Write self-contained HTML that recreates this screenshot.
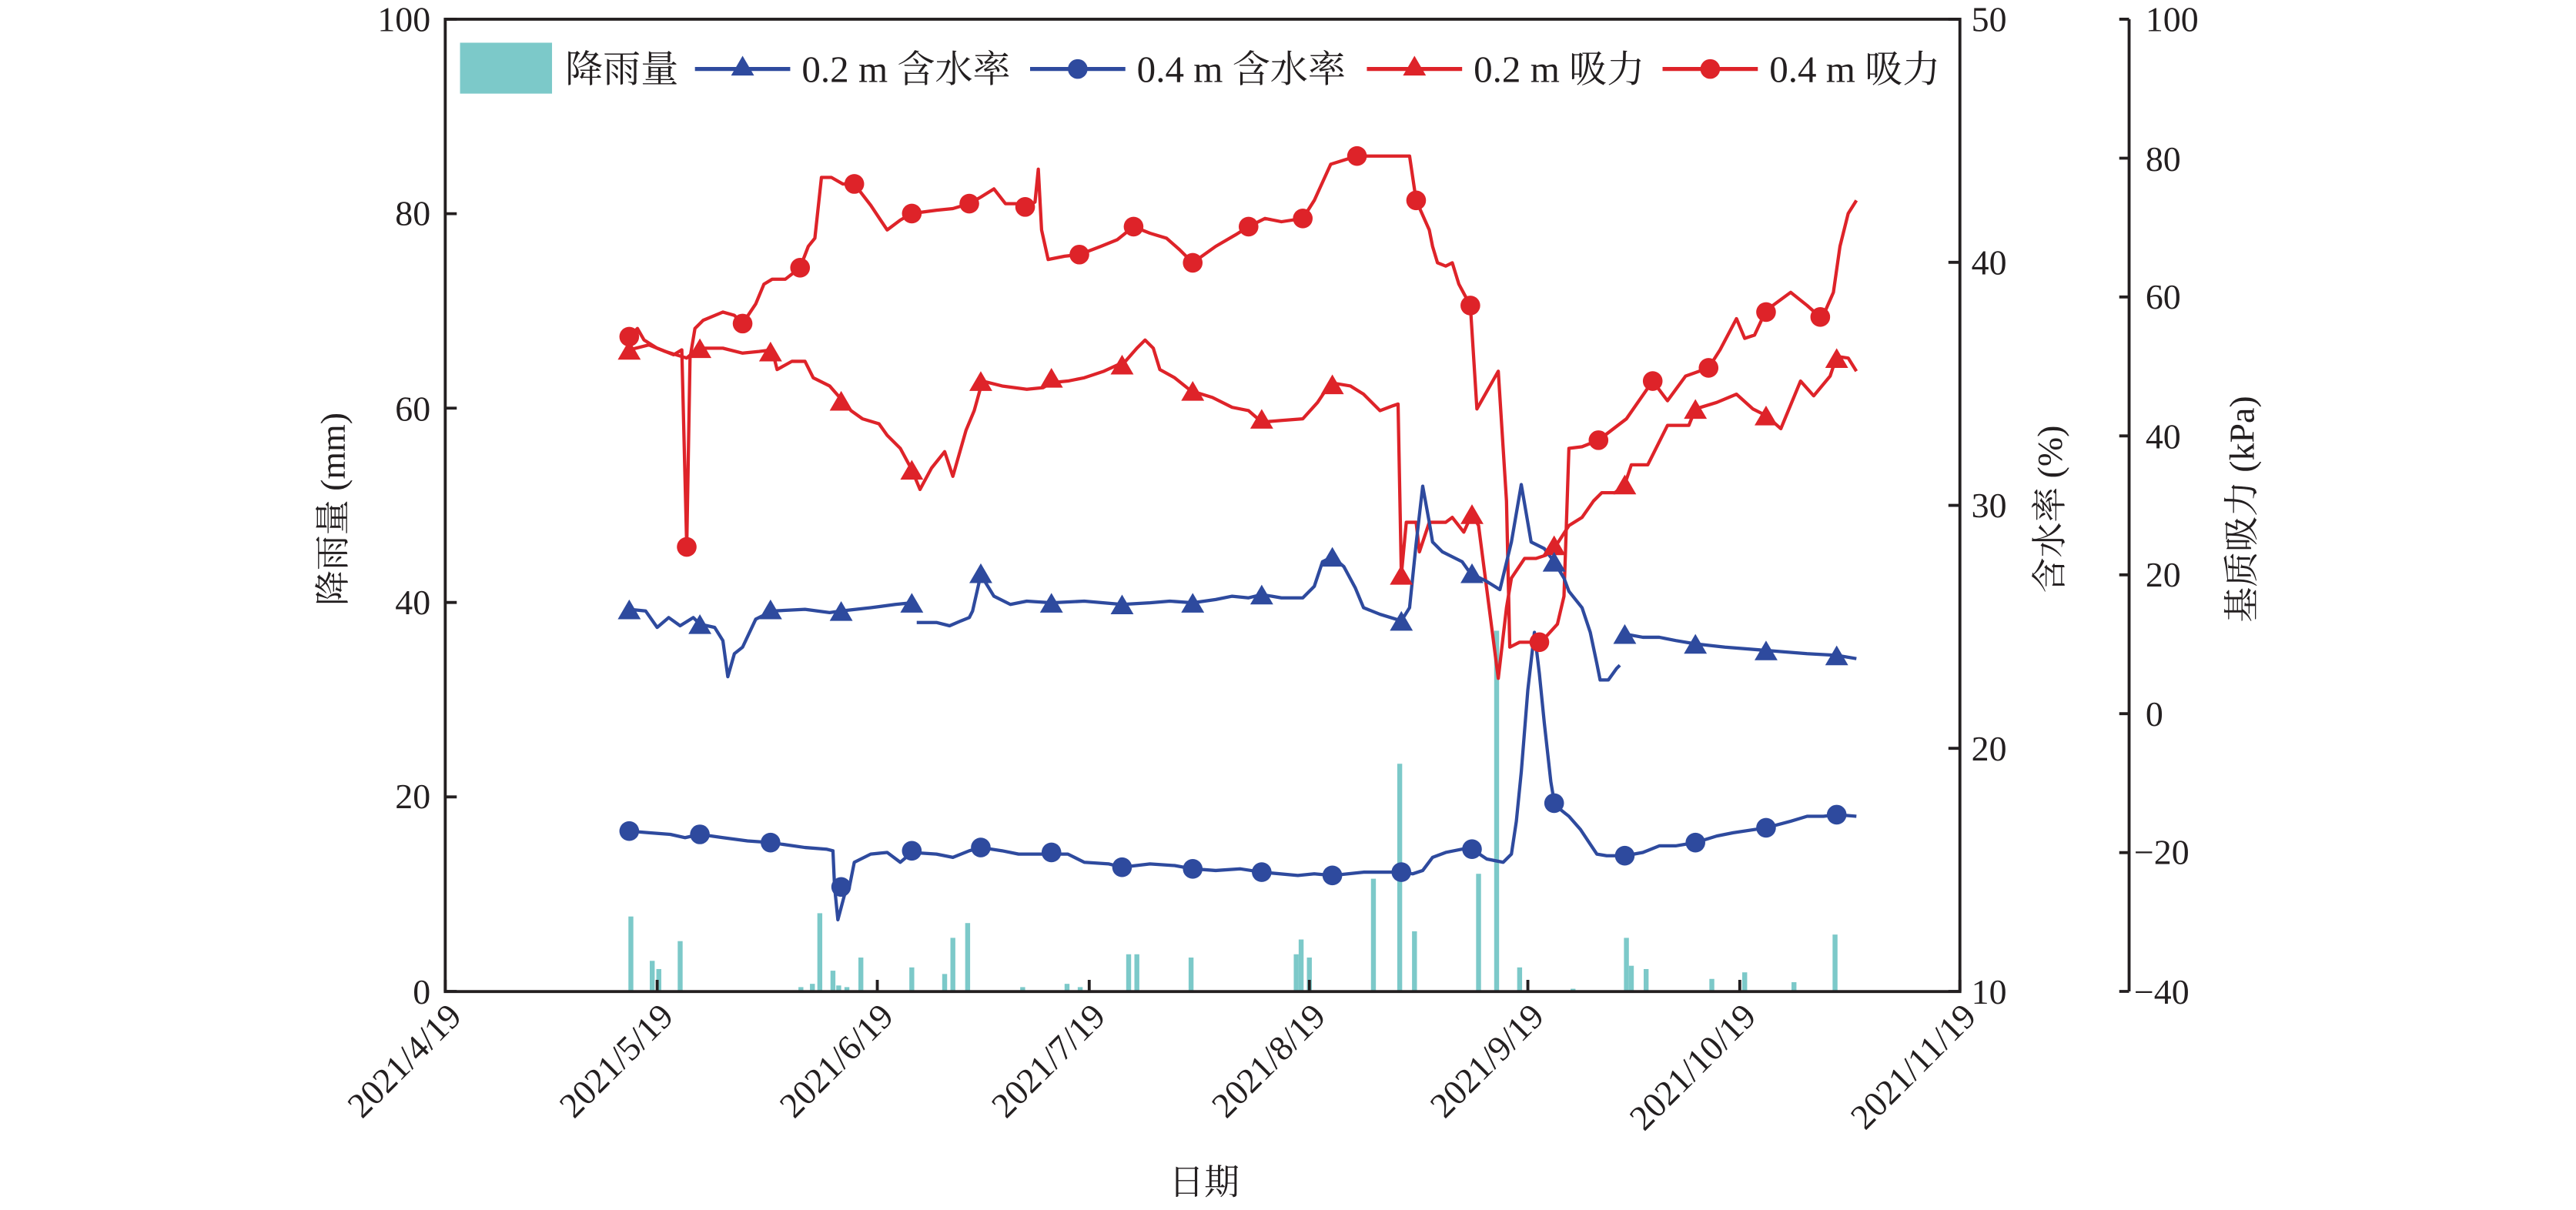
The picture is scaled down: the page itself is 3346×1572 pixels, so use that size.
<!DOCTYPE html>
<html><head><meta charset="utf-8"><style>
html,body{margin:0;padding:0;background:#fff;}
svg{display:block;}
text{font-family:"Liberation Serif","Noto Serif CJK SC","Noto Sans CJK SC",serif;fill:#231f20;}
</style></head><body>
<svg width="3346" height="1572" viewBox="0 0 1568 736.7" xmlns="http://www.w3.org/2000/svg">
<!-- rain bars -->
<g fill="#7cc9c9">
<rect x="382.5" y="558" width="3" height="45.6"/>
<rect x="395.5" y="585" width="3" height="18.6"/>
<rect x="399.5" y="590" width="3" height="13.6"/>
<rect x="412.5" y="573" width="3" height="30.6"/>
<rect x="486" y="601" width="3" height="2.6"/>
<rect x="493" y="599" width="3" height="4.6"/>
<rect x="497.5" y="556" width="3" height="47.6"/>
<rect x="505.5" y="591" width="3" height="12.6"/>
<rect x="509" y="600" width="3" height="3.6"/>
<rect x="514" y="601" width="3" height="2.6"/>
<rect x="522.5" y="583" width="3" height="20.6"/>
<rect x="553.5" y="589" width="3" height="14.6"/>
<rect x="573.5" y="593" width="3" height="10.6"/>
<rect x="578.5" y="571" width="3" height="32.6"/>
<rect x="587.5" y="562" width="3" height="41.6"/>
<rect x="621" y="601" width="3" height="2.6"/>
<rect x="648" y="599" width="3" height="4.6"/>
<rect x="656" y="601" width="3" height="2.6"/>
<rect x="685.5" y="581" width="3" height="22.6"/>
<rect x="690.5" y="581" width="3" height="22.6"/>
<rect x="723.5" y="583" width="3" height="20.6"/>
<rect x="787.5" y="581" width="3" height="22.6"/>
<rect x="790.5" y="572" width="3" height="31.6"/>
<rect x="795.5" y="583" width="3" height="20.6"/>
<rect x="834.5" y="535" width="3" height="68.6"/>
<rect x="850.5" y="465" width="3" height="138.6"/>
<rect x="859.5" y="567" width="3" height="36.6"/>
<rect x="898.5" y="532" width="3" height="71.6"/>
<rect x="909.5" y="384" width="3" height="219.6"/>
<rect x="923.5" y="589" width="3" height="14.6"/>
<rect x="956" y="602" width="3" height="1.6"/>
<rect x="988.5" y="571" width="3" height="32.6"/>
<rect x="991.5" y="588" width="3" height="15.6"/>
<rect x="1000.5" y="590" width="3" height="13.6"/>
<rect x="1040.5" y="596" width="3" height="7.6"/>
<rect x="1060.5" y="592" width="3" height="11.6"/>
<rect x="1090.5" y="598" width="3" height="5.6"/>
<rect x="1115.5" y="569" width="3" height="34.6"/>
</g>
<g fill="none" stroke-width="2" stroke-linejoin="round">
<!-- 0.4 m suction -->
<polyline stroke="#de2329" points="383,205 388,200 392,207 400,212 410,216 415,213 418,333 420,218 423,200 428,195 440,190 447,192 452,197 460,185 465,173 470,170 478,170 487,163 492,150 496,145 500,108 506,108 513,112 520,112 530,125 540,140 548,134 555,130 570,128 580,127 590,124 597,120 605,115 612,124 620,124 625,126 630,123 632,103 634,140 638,158 648,156 657,155 670,150 680,146 690,138 700,142 710,145 718,152 726,160 740,150 752,143 760,138 770,133 780,135 793,133 800,122 810,100 826,95 840,95 858,95 862,122 870,140 872,150 875,160 880,162 884,160 888,173 895,186 899,249 912,226 917,305 919,394 925,391 938,391 948,380 952,363 955,273 963,272 973,268 990,255 1006,232 1015,244 1026,229 1040,224 1047,213 1057,194 1062,206 1068,204 1075,189 1090,178 1100,186 1109,194 1116,178 1120,150 1125,130 1130,122"/>
<!-- 0.2 m suction -->
<polyline stroke="#de2329" points="383,213 395,210 405,214 418,218 425,212 440,212 452,215 462,214 470,213 473,225 482,220 490,220 495,230 505,235 512,243 518,250 525,255 535,258 540,265 548,273 555,286 560,298 567,285 575,275 580,290 588,262 593,250 598,232 610,235 625,237 635,236 640,233 650,232 660,230 672,226 685,220 692,212 697,207 702,212 706,225 715,230 725,238 738,242 750,248 760,250 768,257 780,256 793,255 802,245 810,233 822,235 830,240 840,250 848,247 851,246 853,350 856,318 862,318 864,336 870,318 880,318 884,315 891,324 896,313 900,320 912,413 917,370 920,352 928,340 935,340 941,338 946,334 955,320 963,315 970,305 975,300 983,300 989,295 993,283 1003,283 1015,259 1028,259 1032,249 1045,245 1057,240 1067,249 1075,253 1084,261 1096,232 1104,241 1114,229 1118,217 1125,218 1130,226"/>
<!-- 0.2 m moisture -->
<polyline stroke="#2e4a9e" points="383,371 393,372 400,382 407,376 414,381 422,376 426,380 435,382 440,390 443,412 447,398 452,394 460,377 470,372 490,371 505,373 512,372 530,370 545,368 555,367"/>
<polyline stroke="#2e4a9e" points="558,379 570,379 578,381 585,378 590,376 592,372 597,350 605,363 615,368 625,366 640,367 660,366 683,368 700,367 712,366 726,367 740,365 750,363 760,364 768,362 780,364 793,364 800,357 805,342 811,339 818,345 825,358 830,370 840,374 853,378 858,370 862,331 866,296 870,318 872,330 878,336 890,342 895,349 905,354 913,359 920,330 926,295 932,330 940,334 946,342 952,352 955,360 963,370 968,385 972,404 974,414 979,414 984,407 986,405"/>
<polyline stroke="#2e4a9e" points="989,386 1000,388 1010,388 1020,390 1032,392 1050,394 1075,396 1100,398 1118,399 1130,401"/>
<!-- 0.4 m moisture -->
<polyline stroke="#2e4a9e" points="383,506 395,507 408,508 417,510 426,508 440,510 455,512 469,513 490,516 503,517 507,518 508,540 510,560 514,545 517,540 520,525 530,520 540,519 548,525 555,519 570,520 580,522 590,518 597,516 610,518 620,520 640,520 650,520 660,525 675,526 683,528 700,526 715,527 726,529 740,530 755,529 768,531 790,533 800,532 811,533 830,531 853,531 860,532 866,530 872,522 880,519 890,517 896,517 905,523 915,525 920,520 923,500 926,470 930,420 934,385 937,410 940,440 944,476 946,488 950,493 955,497 962,505 968,514 972,520 978,521 989,521 1000,519 1010,515 1020,515 1032,513 1045,509 1055,507 1075,504 1090,500 1100,497 1110,497 1118,496 1130,497"/>
</g>
<!-- markers -->
<g fill="#de2329">
<circle cx="383" cy="205" r="6"/><circle cx="418" cy="333" r="6"/><circle cx="452" cy="197" r="6"/><circle cx="487" cy="163" r="6"/><circle cx="520" cy="112" r="6"/><circle cx="555" cy="130" r="6"/><circle cx="590" cy="124" r="6"/><circle cx="624" cy="126" r="6"/><circle cx="657" cy="155" r="6"/><circle cx="690" cy="138" r="6"/><circle cx="726" cy="160" r="6"/><circle cx="760" cy="138" r="6"/><circle cx="793" cy="133" r="6"/><circle cx="826" cy="95" r="6"/><circle cx="862" cy="122" r="6"/><circle cx="895" cy="186" r="6"/><circle cx="937" cy="391" r="6"/><circle cx="973" cy="268" r="6"/><circle cx="1006" cy="232" r="6"/><circle cx="1040" cy="224" r="6"/><circle cx="1075" cy="190" r="6"/><circle cx="1108" cy="193" r="6"/>
</g>
<g fill="#de2329">
<polygon points="383,207 390,219 376,219"/><polygon points="426,206 433,218 419,218"/><polygon points="469,208 476,220 462,220"/><polygon points="512,238 519,250 505,250"/><polygon points="555,280 562,292 548,292"/><polygon points="597,226 604,238 590,238"/><polygon points="640,224 647,236 633,236"/><polygon points="683,216 690,228 676,228"/><polygon points="726,232 733,244 719,244"/><polygon points="768,249 775,261 761,261"/><polygon points="811,228 818,240 804,240"/><polygon points="853,344 860,356 846,356"/><polygon points="896,307 903,319 889,319"/><polygon points="946,326 953,338 939,338"/><polygon points="989,289 996,301 982,301"/><polygon points="1032,243 1039,255 1025,255"/><polygon points="1075,247 1082,259 1068,259"/><polygon points="1118,212 1125,224 1111,224"/>
</g>
<g fill="#2e4a9e">
<polygon points="383,365 390,377 376,377"/><polygon points="426,374 433,386 419,386"/><polygon points="469,365 476,377 462,377"/><polygon points="512,366 519,378 505,378"/><polygon points="555,361 562,373 548,373"/><polygon points="597,343 604,355 590,355"/><polygon points="640,361 647,373 633,373"/><polygon points="683,362 690,374 676,374"/><polygon points="726,361 733,373 719,373"/><polygon points="768,356 775,368 761,368"/><polygon points="811,333 818,345 804,345"/><polygon points="853,372 860,384 846,384"/><polygon points="896,343 903,355 889,355"/><polygon points="946,336 953,348 939,348"/><polygon points="989,380 996,392 982,392"/><polygon points="1032,386 1039,398 1025,398"/><polygon points="1075,390 1082,402 1068,402"/><polygon points="1118,393 1125,405 1111,405"/>
<circle cx="383" cy="506" r="6"/><circle cx="426" cy="508" r="6"/><circle cx="469" cy="513" r="6"/><circle cx="512" cy="540" r="6"/><circle cx="555" cy="518" r="6"/><circle cx="597" cy="516" r="6"/><circle cx="640" cy="519" r="6"/><circle cx="683" cy="528" r="6"/><circle cx="726" cy="529" r="6"/><circle cx="768" cy="531" r="6"/><circle cx="811" cy="533" r="6"/><circle cx="853" cy="531" r="6"/><circle cx="896" cy="517" r="6"/><circle cx="946" cy="489" r="6"/><circle cx="989" cy="521" r="6"/><circle cx="1032" cy="513" r="6"/><circle cx="1075" cy="504" r="6"/><circle cx="1118" cy="496" r="6"/>
</g>
<!-- axes -->
<g stroke="#231f20" stroke-width="1.8" fill="none">
<rect x="271" y="11.7" width="922" height="592"/>
<line x1="1296" y1="11.7" x2="1296" y2="603.6"/>
<path d="M271,11.7h7 M271,130.1h7 M271,248.5h7 M271,366.8h7 M271,485.2h7 M271,603.6h7"/>
<path d="M1193,11.7h-7 M1193,159.7h-7 M1193,307.7h-7 M1193,455.6h-7 M1193,603.6h-7"/>
<path d="M1296,11.7h-6 M1296,96.3h-6 M1296,180.8h-6 M1296,265.4h-6 M1296,350h-6 M1296,434.5h-6 M1296,519.1h-6 M1296,603.6h-6"/>
<path d="M271,603.6v-7 M400,603.6v-7 M534,603.6v-7 M663,603.6v-7 M797,603.6v-7 M930,603.6v-7 M1059,603.6v-7 M1193,603.6v-7"/>
</g>
<g font-size="21.5" text-anchor="end">
<text x="262" y="19">100</text><text x="262" y="137">80</text><text x="262" y="256">60</text><text x="262" y="374">40</text><text x="262" y="492">20</text><text x="262" y="611">0</text>
</g>
<g font-size="21.5">
<text x="1200" y="19">50</text><text x="1200" y="167">40</text><text x="1200" y="315">30</text><text x="1200" y="463">20</text><text x="1200" y="611">10</text>
<text x="1306" y="19">100</text><text x="1306" y="104">80</text><text x="1306" y="188">60</text><text x="1306" y="273">40</text><text x="1306" y="357">20</text><text x="1306" y="442">0</text><text x="1299" y="526">−20</text><text x="1299" y="611">−40</text>
</g>
<g font-size="21.5" text-anchor="end">
<text transform="translate(282,620) rotate(-45)">2021/4/19</text>
<text transform="translate(411,620) rotate(-45)">2021/5/19</text>
<text transform="translate(545,620) rotate(-45)">2021/6/19</text>
<text transform="translate(674,620) rotate(-45)">2021/7/19</text>
<text transform="translate(808,620) rotate(-45)">2021/8/19</text>
<text transform="translate(941,620) rotate(-45)">2021/9/19</text>
<text transform="translate(1070,620) rotate(-45)">2021/10/19</text>
<text transform="translate(1204,620) rotate(-45)">2021/11/19</text>
</g>
<g font-size="21.5" text-anchor="middle">
<text x="733" y="727">日期</text>
<text transform="translate(210,310) rotate(-90)">降雨量 (mm)</text>
<text transform="translate(1255,310) rotate(-90)">含水率 (%)</text>
<text transform="translate(1372,310) rotate(-90)">基质吸力 (kPa)</text>
</g>
<!-- legend -->
<rect x="280" y="26" width="56" height="31" fill="#7cc9c9"/>
<g font-size="23">
<text x="344" y="50">降雨量</text>
<text x="488" y="50">0.2 m 含水率</text>
<text x="692" y="50">0.4 m 含水率</text>
<text x="897" y="50">0.2 m 吸力</text>
<text x="1077" y="50">0.4 m 吸力</text>
</g>
<g stroke-width="2.5">
<line x1="423" y1="42" x2="481" y2="42" stroke="#2e4a9e"/>
<line x1="627" y1="42" x2="685" y2="42" stroke="#2e4a9e"/>
<line x1="832" y1="42" x2="890" y2="42" stroke="#de2329"/>
<line x1="1012" y1="42" x2="1070" y2="42" stroke="#de2329"/>
</g>
<polygon points="452,34 459,46 445,46" fill="#2e4a9e"/>
<circle cx="656" cy="42" r="6" fill="#2e4a9e"/>
<polygon points="861,34 868,46 854,46" fill="#de2329"/>
<circle cx="1041" cy="42" r="6" fill="#de2329"/>
</svg>
</body></html>
